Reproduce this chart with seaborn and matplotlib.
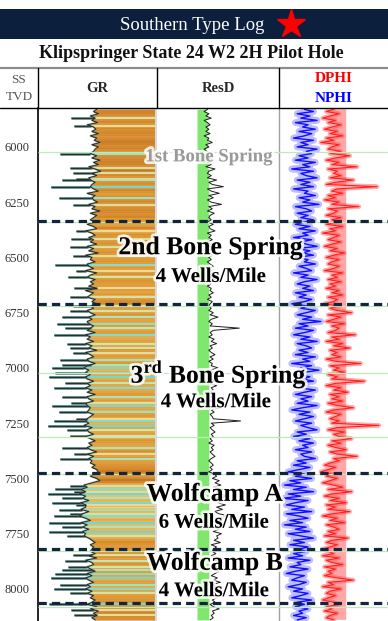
import numpy as np
import matplotlib
matplotlib.use("Agg")
import matplotlib.pyplot as plt
import matplotlib.patheffects as pe
from matplotlib.colors import LinearSegmentedColormap, Normalize
from matplotlib.transforms import blended_transform_factory
from matplotlib.patches import Rectangle
import seaborn as sns

# ---- log data, one sample every 10 ft, 5830-8140 ----
depth = np.arange(5830, 8141, 10)

# gamma ray baseline, API
gr = [
    74, 70, 76, 66, 72, 68, 75, 62, 70, 73,
    68, 76, 66, 74, 71, 78, 68, 76, 72, 70,
    66, 74, 68, 78, 70, 76, 64, 72, 79, 68,
    74, 64, 66, 72, 68, 66, 70, 76, 62, 72,
    68, 70, 75, 64, 72, 68, 78, 66, 74, 70,
    66, 72, 62, 70, 74, 60, 68, 72, 64, 70,
    66, 74, 62, 70, 64, 76, 60, 68, 66, 72,
    62, 64, 70, 60, 74, 66, 62, 72, 66, 70,
    64, 74, 60, 70, 66, 62, 72, 68, 74, 66,
    70, 62, 66, 72, 64, 68, 62, 64, 70, 66,
    62, 72, 60, 66, 62, 70, 60, 68, 64, 74,
    60, 66, 70, 62, 64, 72, 62, 58, 64, 60,
    66, 60, 62, 70, 62, 66, 60, 68, 62, 72,
    62, 64, 70, 60, 62, 66, 64, 62, 70, 66,
    62, 60, 64, 58, 68, 62, 64, 70, 60, 66,
    72, 64, 68, 62, 66, 74, 62, 70, 64, 68,
    66, 72, 68, 74, 76, 70, 66, 74, 78, 68,
    58, 62, 54, 60, 52, 60, 56, 64, 54, 60,
    60, 54, 64, 56, 52, 60, 66, 54, 62, 56,
    64, 56, 60, 58, 64, 68, 72, 66, 70, 68,
    66, 72, 64, 74, 60, 68, 70, 62, 66, 72,
    62, 68, 60, 64, 70, 62, 66, 60, 68, 62,
    70, 66, 72, 68, 62, 74, 66, 76, 70, 74,
    68, 72,
]

# thin low-GR spikes: depth (ft) and GR reached (API)
spike_depth = [5868, 5906, 6030, 6095, 6118, 6145, 6152, 6180, 6232, 6262,
               6380, 6415, 6452, 6495, 6533, 6560, 6590, 6640, 6680, 6720,
               6742, 6770, 6802, 6818, 6852, 6890, 6910, 6932, 6962, 6985,
               7000, 7022, 7042, 7070, 7090, 7130, 7160, 7172, 7200, 7232,
               7242, 7262, 7280, 7310, 7362, 7390, 7410, 7532, 7550, 7562,
               7572, 7590, 7610, 7622, 7642, 7660, 7672, 7700, 7720, 7742,
               7762, 7845, 7872, 7900, 7915, 7932, 7952, 7980, 8000, 8020,
               8070, 8095, 8120]
spike_gr = [42, 46, 28, 40, 44, 48, 30, 16, 26, 44,
            48, 42, 40, 44, 22, 48, 38, 46, 40, 44,
            40, 30, 24, 34, 20, 36, 40, 44, 28, 30,
            18, 22, 14, 34, 20, 30, 42, 18, 26, 48,
            20, 12, 36, 40, 30, 46, 28, 40, 22, 46,
            12, 30, 18, 48, 26, 40, 20, 14, 30, 14,
            36, 44, 34, 38, 30, 22, 16, 28, 20, 40,
            14, 42, 46]

# deep resistivity, ohm-m
resd = [
    9, 7, 10, 8, 12, 7, 9, 11, 8, 10,
    8, 11, 7, 10, 9, 13, 8, 10, 7, 9,
    11, 8, 10, 14, 9, 12, 8, 16, 10, 9,
    12, 9, 18, 10, 13, 30, 9, 12, 22, 10,
    14, 9, 12, 26, 10, 13, 9, 15, 11, 10,
    12, 9, 14, 10, 11, 16, 9, 12, 10, 13,
    9, 12, 10, 15, 9, 11, 13, 10, 12, 9,
    11, 14, 10, 12, 9, 13, 11, 16, 10, 12,
    9, 12, 11, 14, 10, 12, 9, 13, 11, 10,
    12, 10, 14, 11, 20, 12, 10, 13, 11, 100,
    14, 11, 13, 10, 15, 12, 18, 11, 13, 10,
    12, 16, 11, 14, 10, 13, 12, 20, 11, 14,
    10, 13, 12, 15, 11, 18, 12, 14, 10, 13,
    12, 16, 11, 14, 13, 24, 12, 15, 11, 13,
    14, 110, 12, 15, 11, 13, 16, 12, 14, 11,
    13, 10, 15, 12, 14, 11, 13, 16, 12, 10,
    12, 14, 11, 13, 10, 15, 18, 13, 22, 16,
    25, 14, 30, 18, 22, 40, 16, 26, 20, 35,
    18, 28, 15, 22, 45, 17, 24, 19, 30, 16,
    22, 14, 26, 18, 20, 15, 24, 12, 18, 14,
    13, 17, 12, 20, 15, 28, 13, 18, 14, 22,
    16, 12, 19, 14, 24, 13, 17, 15, 20, 12,
    15, 18, 13, 16, 11, 14, 22, 13, 15, 12,
    14, 11,
]

# neutron porosity, v/v
nphi = [
    0.31, 0.26, 0.35, 0.28, 0.33, 0.24, 0.36, 0.29, 0.32, 0.25,
    0.34, 0.27, 0.31, 0.37, 0.26, 0.33, 0.29, 0.35, 0.24, 0.30,
    0.27, 0.34, 0.29, 0.36, 0.25, 0.32, 0.28, 0.38, 0.26, 0.33,
    0.30, 0.24, 0.35, 0.28, 0.33, 0.26, 0.37, 0.29, 0.31, 0.25,
    0.34, 0.28, 0.32, 0.23, 0.36, 0.30, 0.27, 0.35, 0.29, 0.33,
    0.26, 0.31, 0.36, 0.28, 0.34, 0.25, 0.32, 0.29, 0.37, 0.27,
    0.33, 0.30, 0.24, 0.35, 0.28, 0.32, 0.26, 0.36, 0.29, 0.31,
    0.25, 0.34, 0.30, 0.27, 0.37, 0.29, 0.33, 0.24, 0.31, 0.35,
    0.28, 0.32, 0.26, 0.36, 0.30, 0.34, 0.27, 0.31, 0.38, 0.29,
    0.33, 0.25, 0.30, 0.35, 0.27, 0.32, 0.22, 0.34, 0.29, 0.36,
    0.26, 0.31, 0.37, 0.28, 0.33, 0.24, 0.35, 0.30, 0.27, 0.34,
    0.29, 0.36, 0.25, 0.32, 0.28, 0.38, 0.27, 0.33, 0.23, 0.31,
    0.35, 0.28, 0.32, 0.26, 0.37, 0.30, 0.34, 0.25, 0.31, 0.36,
    0.27, 0.33, 0.29, 0.35, 0.24, 0.32, 0.38, 0.28, 0.34, 0.26,
    0.31, 0.36, 0.27, 0.33, 0.29, 0.24, 0.35, 0.30, 0.37, 0.28,
    0.34, 0.26, 0.32, 0.29, 0.36, 0.27, 0.33, 0.31, 0.25, 0.35,
    0.30, 0.37, 0.28, 0.34, 0.40, 0.31, 0.36, 0.27, 0.39, 0.33,
    0.42, 0.30, 0.37, 0.26, 0.40, 0.33, 0.43, 0.29, 0.36, 0.41,
    0.31, 0.38, 0.27, 0.41, 0.34, 0.29, 0.39, 0.32, 0.42, 0.30,
    0.36, 0.28, 0.40, 0.33, 0.26, 0.37, 0.31, 0.39, 0.29, 0.34,
    0.30, 0.37, 0.32, 0.40, 0.28, 0.35, 0.33, 0.39, 0.29, 0.36,
    0.41, 0.31, 0.35, 0.38, 0.30, 0.34, 0.40, 0.32, 0.37, 0.29,
    0.33, 0.38, 0.27, 0.35, 0.31, 0.36, 0.29, 0.34, 0.32, 0.37,
    0.30, 0.35,
]

# density porosity, v/v
dphi = [
    0.15, 0.19, 0.12, 0.17, 0.21, 0.14, 0.18, 0.11, 0.16, 0.20,
    0.13, 0.17, 0.10, 0.19, 0.15, 0.22, 0.12, 0.16, 0.18, 0.11,
    0.17, 0.06, 0.14, 0.19, 0.12, 0.16, 0.02, 0.18, 0.13, 0.15,
    0.11, 0.17, 0.04, 0.14, 0.19, -0.09, 0.13, 0.16, 0.10, 0.18,
    0.14, 0.20, 0.12, 0.16, 0.01, 0.18, 0.13, 0.15, 0.19, 0.11,
    0.16, 0.13, 0.19, 0.10, 0.17, 0.14, 0.21, 0.12, 0.15, 0.18,
    0.11, 0.16, 0.20, 0.13, 0.17, 0.09, 0.15, 0.19, 0.12, 0.16,
    0.18, 0.12, 0.15, 0.20, 0.10, 0.16, 0.13, 0.18, 0.11, 0.17,
    0.14, 0.19, 0.12, 0.16, 0.10, 0.18, 0.13, 0.15, 0.20, 0.12,
    0.17, 0.13, 0.05, 0.18, 0.11, 0.15, 0.19, 0.09, 0.16, 0.12,
    0.14, 0.18, 0.03, 0.16, 0.12, 0.19, 0.10, 0.15, 0.06, 0.17,
    0.13, 0.16, 0.11, 0.19, 0.14, 0.00, 0.17, 0.12, 0.15, 0.09,
    0.18, 0.13, 0.16, -0.02, 0.14, 0.19, 0.11, 0.15, 0.07, 0.17,
    0.12, 0.16, 0.10, 0.18, 0.13, 0.04, 0.15, 0.19, 0.11, 0.14,
    0.17, 0.12, 0.16, -0.10, 0.13, 0.18, 0.09, 0.15, 0.12, 0.05,
    0.16, 0.11, 0.18, 0.14, 0.08, 0.17, 0.13, 0.02, 0.15, 0.12,
    0.17, 0.20, 0.14, 0.18, 0.22, 0.16, 0.19, 0.13, 0.17, 0.21,
    0.15, 0.10, 0.18, 0.05, 0.16, 0.20, 0.12, 0.17, 0.08, 0.19,
    0.14, 0.18, 0.06, 0.16, 0.21, 0.13, 0.17, 0.09, 0.19, 0.15,
    0.12, 0.18, 0.14, 0.20, 0.07, 0.16, 0.19, 0.13, 0.17, 0.21,
    0.18, 0.15, 0.21, 0.12, 0.19, 0.16, 0.10, 0.20, 0.14, 0.18,
    0.16, 0.20, 0.13, 0.04, 0.18, 0.15, 0.21, 0.11, 0.17, 0.19,
    0.14, 0.18, 0.21, 0.15, 0.12, 0.19, 0.16, 0.20, 0.13, 0.17,
    0.19, 0.15,
]

# formation tops (dashed) and thin green marker lines, ft
tops = [6333, 6712, 7474, 7819, 8065]
markers = [6024, 6342, 6722, 7024, 7311, 7480, 7827, 8081]

# zone labels: (depth, text, size, colour, x centre px)
zone_labels = [
    (6045, "1st Bone Spring", 13.5, "#9a9a9a", 209),
    (6456, "2nd Bone Spring", 18.5, "black", 211),
    (6588, "4 Wells/Mile", 15, "black", 211),
    (7026, r"3$^{\mathbf{rd}}$ Bone Spring", 18.5, "black", 219),
    (7155, "4 Wells/Mile", 15, "black", 216),
    (7572, "Wolfcamp A", 18.5, "black", 215),
    (7700, "6 Wells/Mile", 15, "black", 214),
    (7884, "Wolfcamp B", 18.5, "black", 215),
    (8010, "4 Wells/Mile", 15, "black", 214),
]
depth_ticks = list(range(6000, 8001, 250))

sns.set_theme(style="white")
plt.rcParams["font.family"] = ["Liberation Serif", "DejaVu Serif"]
plt.rcParams["mathtext.fontset"] = "custom"
plt.rcParams["mathtext.rm"] = "Liberation Serif"
plt.rcParams["mathtext.bf"] = "Liberation Serif:bold"

W, H = 388, 621
fig = plt.figure(figsize=(W / 100, H / 100), dpi=100)
fig.patch.set_facecolor("white")

top_px = 108
h = (H - top_px) / H
ax_gr = fig.add_axes([38 / W, 0, 119 / W, h])
ax_res = fig.add_axes([157 / W, 0, 122 / W, h], sharey=ax_gr)
ax_por = fig.add_axes([279 / W, 0, 109 / W, h], sharey=ax_gr)

gr = np.array(gr, dtype=float)
resd = np.array(resd, dtype=float)
nphi = np.array(nphi)
dphi = np.array(dphi)
spike_depth = np.array(spike_depth, dtype=float)
spike_gr = np.array(spike_gr, dtype=float)
assert len(gr) == len(resd) == len(nphi) == len(dphi) == len(depth)
assert len(spike_depth) == len(spike_gr)

# ---- GR track: colour-banded fill from the curve to the right edge ----
gr_cmap = LinearSegmentedColormap.from_list(
    "gr", [(0.0, "#6ed8d2"), (0.32, "#c8e8b0"), (0.52, "#f0d890"),
           (0.66, "#ecb858"), (0.8, "#e09833"), (0.9, "#cc7d26"),
           (1.0, "#b0621c")])
norm = Normalize(15, 81)
gr_right = 147.5
for i in range(len(depth) - 1):
    seg_col = gr_cmap(norm(0.5 * (gr[i] + gr[i + 1])))
    ax_gr.fill_betweenx(depth[i:i + 2], gr[i:i + 2], gr_right,
                        color=seg_col, lw=0.3, ec=seg_col)
ax_gr.axvspan(gr_right, 150, color="#d9d9d9", lw=0)
# spikes: light band across the fill, dark needle left of the curve
ax_gr.hlines(spike_depth, spike_gr, gr_right, colors=gr_cmap(norm(spike_gr)),
             lw=1.5)
base_at_spike = np.interp(spike_depth, depth, gr)
ax_gr.hlines(spike_depth, spike_gr, base_at_spike, colors="#55787a", lw=1.8)
ax_gr.hlines(spike_depth, spike_gr, base_at_spike, colors="#111111", lw=0.5)
sns.lineplot(x=gr, y=depth, orient="y", sort=False, estimator=None,
             ax=ax_gr, color="#5e8583", lw=1.4, alpha=0.5)
sns.lineplot(x=gr, y=depth, orient="y", sort=False, estimator=None,
             ax=ax_gr, color="#1c1c1c", lw=0.6)
ax_gr.set_xlim(0, 150)

# ---- ResD track ----
ax_res.set_xscale("log")
ax_res.set_xlim(0.2, 2000)
ax_res.fill_betweenx(depth, 4.1, np.minimum(resd, 10), color="#7fe86c", lw=0)
sns.lineplot(x=resd, y=depth, orient="y", sort=False, estimator=None,
             ax=ax_res, color="#1e1e1e", lw=0.7)

# ---- porosity track ----
ax_por.set_xlim(0.45, -0.15)
ax_por.fill_betweenx(depth, dphi, 0.08, where=dphi > 0.08,
                     color="#ff8a8a", alpha=0.75, lw=0, interpolate=True)
sns.lineplot(x=nphi, y=depth, orient="y", sort=False, estimator=None,
             ax=ax_por, color="#5a5aff", lw=4.8, alpha=0.4)
sns.lineplot(x=nphi, y=depth, orient="y", sort=False, estimator=None,
             ax=ax_por, color="#1010ff", lw=1.0)
sns.lineplot(x=dphi, y=depth, orient="y", sort=False, estimator=None,
             ax=ax_por, color="#ff4848", lw=3.2, alpha=0.45)
sns.lineplot(x=dphi, y=depth, orient="y", sort=False, estimator=None,
             ax=ax_por, color="#ff1f1f", lw=0.8)

for ax in (ax_gr, ax_res, ax_por):
    ax.set_facecolor("white")
    ax.set_xlabel("")
    ax.set_ylabel("")
    ax.set_xticks([])
    ax.grid(False)
    for s in ax.spines.values():
        s.set_visible(False)
ax_gr.set_ylim(8145, 5824)
ax_gr.set_yticks(depth_ticks)
ax_gr.set_yticklabels([str(t) for t in depth_ticks])
ax_gr.tick_params(axis="y", length=0, pad=6, labelsize=9, labelcolor="#333333")
ax_res.tick_params(axis="y", left=False, labelleft=False)
ax_por.tick_params(axis="y", left=False, labelleft=False)
ax_gr.spines["left"].set_visible(True)
ax_gr.spines["left"].set_color("black")
ax_gr.spines["left"].set_linewidth(1.2)
ax_por.spines["left"].set_visible(True)
ax_por.spines["left"].set_color("#a0a0a0")
ax_por.spines["left"].set_linewidth(1.0)

# ---- overlay for title, header and zone labels (pixel coords) ----
lay = fig.add_axes([0, 0, 1, 1], zorder=10)
lay.set_xlim(0, W)
lay.set_ylim(H, 0)
lay.axis("off")
lay.patch.set_alpha(0)

lay.add_patch(Rectangle((0, 9), W, 30, color="#0c1f3d", lw=0))
lay.text(192, 25, "Southern Type Log", color="white", fontsize=13.5,
         ha="center", va="center")
lay.plot([291], [24], marker="*", color="#ff0000", ms=21, mec="#ff0000")
lay.text(191, 53, "Klipspringer State 24 W2 2H Pilot Hole", fontsize=13,
         fontweight="bold", ha="center", va="center", color="#111111")

lay.plot([0, W], [67.8, 67.8], color="#8c8c8c", lw=1.6)
lay.plot([0, W], [108, 108], color="black", lw=1.0)
for xv in (38, 157, 279):
    lay.plot([xv, xv], [68, 108], color="black", lw=1.0)
lay.text(19, 80, "SS", fontsize=9.5, ha="center", va="center", color="#555555")
lay.text(19, 97, "TVD", fontsize=9.5, ha="center", va="center", color="#555555")
lay.text(97, 89, "GR", fontsize=10.5, fontweight="bold", ha="center", va="center")
lay.text(218, 89, "ResD", fontsize=10.5, fontweight="bold", ha="center", va="center")
lay.text(334, 79, "DPHI", fontsize=11, fontweight="bold", ha="center",
         va="center", color="#ff0000")
lay.text(334, 98, "NPHI", fontsize=11, fontweight="bold", ha="center",
         va="center", color="#0000ff")

# lines and labels tied to depth
blend = blended_transform_factory(lay.transData, ax_gr.transData)
lay.hlines(markers, 38, W, transform=blend, color="#bfe9b8", lw=0.9, zorder=1)
lay.hlines(tops, 38, W, transform=blend, color="#11253f", lw=2.3,
           linestyles=(0, (2.6, 1.6)), zorder=2)

glow = [pe.withStroke(linewidth=4, foreground="white", alpha=0.85)]
for d, txt, size, col, xc in zone_labels:
    lay.text(xc, d, txt, transform=blend, fontsize=size, fontweight="bold",
             color=col, ha="center", va="center", path_effects=glow, zorder=5)

fig.savefig("out.png", dpi=100)
